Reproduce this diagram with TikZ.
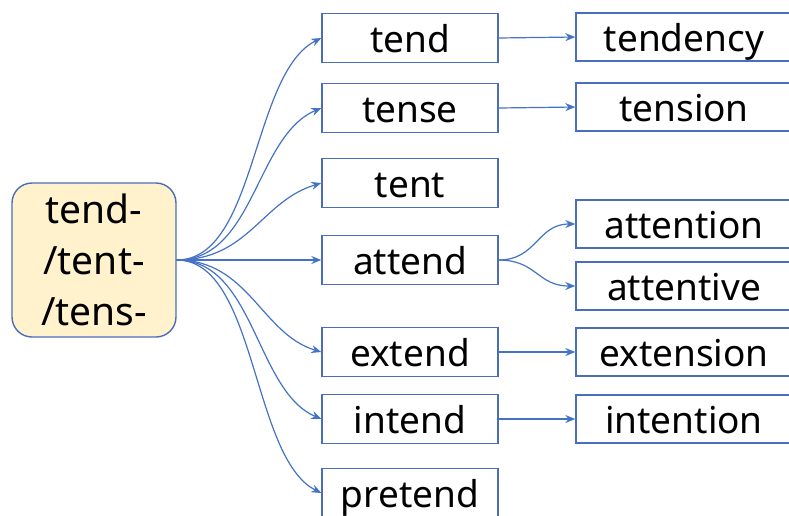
\documentclass[tikz,border=0pt]{standalone}
\usepackage{fontspec}
\setmainfont{Noto Sans}
\usetikzlibrary{arrows.meta}

\definecolor{lineblue}{RGB}{68,114,196}
\definecolor{boxblue}{RGB}{74,110,186}
\definecolor{rootfill}{RGB}{255,242,204}

\begin{document}
\begin{tikzpicture}[x=1pt, y=-1pt, >={Stealth[length=10pt, width=8pt]},
    word/.style={draw=boxblue, line width=1.4pt, minimum width=176pt, minimum height=49pt,
        inner sep=0pt, text height=29pt, text depth=1pt, font=\fontsize{37}{44}\selectfont},
    deriv/.style={word, minimum width=216pt, minimum height=48pt},
    link/.style={->, draw=lineblue, line width=1.2pt}]
    \useasboundingbox (0,0) rectangle (789,515);
    \clip (0,0) rectangle (789,515);

    % root
    \node[draw=boxblue, line width=1.4pt, fill=rootfill, rounded corners=20pt,
        minimum width=164pt, minimum height=154pt, align=center,
        font=\fontsize{39}{51}\selectfont] (root) at (94,260) {tend-\\/tent-\\/tens-};

    % words on the root
    \node[word] (tend) at (410,38) {tend};
    \node[word] (tense) at (410,108) {tense};
    \node[word] (tent) at (410,183) {tent};
    \node[word] (attend) at (410,260) {attend};
    \node[word] (extend) at (410,352) {extend};
    \node[word] (intend) at (410,419) {intend};
    \node[word] (pretend) at (410,493) {pretend};

    % derived words
    \node[deriv] (tendency) at (684,37) {tendency};
    \node[deriv] (tension) at (684,107) {tension};
    \node[deriv] (attention) at (684,224) {attention};
    \node[deriv] (attentive) at (684,286) {attentive};
    \node[deriv] (extension) at (684,352) {extension};
    \node[deriv] (intention) at (684,419) {intention};

    % links from the root
    \draw[link] (root.east) .. controls +(80,0) and +(-70,35) .. (tend.west);
    \draw[link] (root.east) .. controls +(78,0) and +(-66,28) .. (tense.west);
    \draw[link] (root.east) .. controls +(72,0) and +(-60,18) .. (tent.west);
    \draw[link] (root.east) -- (attend.west);
    \draw[link] (root.east) .. controls +(72,0) and +(-60,-18) .. (extend.west);
    \draw[link] (root.east) .. controls +(78,0) and +(-66,-28) .. (intend.west);
    \draw[link] (root.east) .. controls +(80,0) and +(-70,-35) .. (pretend.west);

    % links to derived words
    \draw[link] (tend.east) -- (tendency.west);
    \draw[link] (tense.east) -- (tension.west);
    \draw[link] (attend.east) .. controls +(38,0) and +(-38,0) .. (attention.west);
    \draw[link] (attend.east) .. controls +(38,0) and +(-38,0) .. (attentive.west);
    \draw[link] (extend.east) -- (extension.west);
    \draw[link] (intend.east) -- (intention.west);
\end{tikzpicture}
\end{document}
